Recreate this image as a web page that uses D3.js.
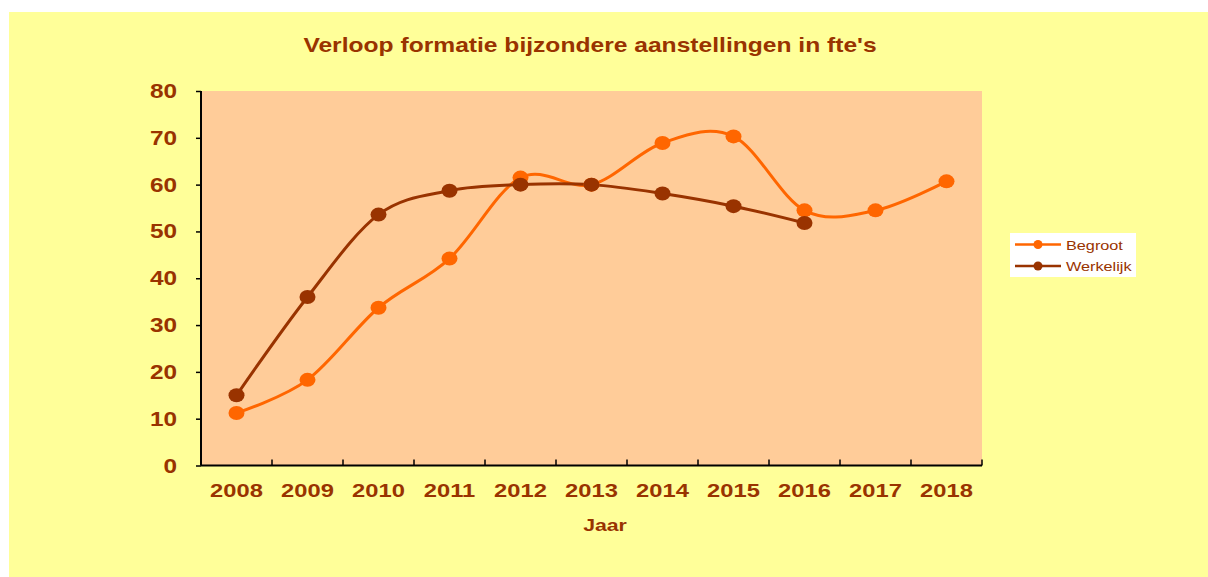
<!DOCTYPE html>
<html>
<head>
<meta charset="utf-8">
<script src="https://cdn.jsdelivr.net/npm/d3@7"></script>
<style>
  body { margin: 0; background: #ffffff; }
  svg { display: block; }
  text { font-family: "Liberation Sans", Arial, sans-serif; fill: #993300; }
</style>
</head>
<body>
<div id="chart"></div>
<script>
var w = 1208,
    h = 577;

// data
var years = ["2008", "2009", "2010", "2011", "2012", "2013", "2014", "2015", "2016", "2017", "2018"];
var begroot = [11.2, 18.3, 33.7, 44.2, 61.5, 60.0, 68.9, 70.3, 54.5, 54.5, 60.7];
var werkelijk = [15.0, 36.0, 53.6, 58.7, 60.0, 60.0, 58.1, 55.4, 51.8, null, null];
var yTicks = [0, 10, 20, 30, 40, 50, 60, 70, 80];
var seriesNames = ["Begroot", "Werkelijk"];
var color = d3.scaleOrdinal().domain(seriesNames).range(["#ff6600", "#993300"]);

var plot = { left: 201, right: 982, top: 91, bottom: 465.5 };
var stretch = 1.25; // the original text is wider than plain Arial

var svg = d3.select("#chart").append("svg")
    .attr("width", w)
    .attr("height", h);

// yellow chart area
svg.append("rect")
    .attr("x", 9).attr("y", 12)
    .attr("width", w - 9).attr("height", h - 12)
    .attr("fill", "#ffff99");

var x = d3.scaleBand().domain(years).range([plot.left, plot.right]);
var y = d3.scaleLinear().domain([0, 80]).range([plot.bottom, plot.top]);

// plot background
svg.append("rect")
    .attr("x", plot.left).attr("y", plot.top)
    .attr("width", plot.right - plot.left)
    .attr("height", plot.bottom - plot.top)
    .attr("fill", "#ffcc99");

function label(g, tx, ty, txt, size, anchor, weight) {
    return g.append("text")
        .attr("transform", "translate(" + tx + "," + ty + ") scale(" + stretch + ",1)")
        .attr("text-anchor", anchor)
        .style("font-size", size + "px")
        .style("font-weight", weight)
        .text(txt);
}

// y axis
var yAxis = svg.append("g").attr("transform", "translate(" + plot.left + ",0)")
    .call(d3.axisLeft(y).tickValues(yTicks).tickSize(5).tickFormat(""));
yAxis.select(".domain").attr("d", "M0," + plot.top + "V" + plot.bottom).attr("stroke", "#000").attr("stroke-width", 2);
yAxis.selectAll(".tick line").attr("stroke", "#000").attr("stroke-width", 1.5);
yTicks.forEach(function(t) {
    label(svg, 177, y(t) + 7, t, 19.5, "end", "bold");
});

// x axis, ticks between categories pointing inward
var xAxis = svg.append("g").attr("transform", "translate(0," + plot.bottom + ")");
xAxis.append("line")
    .attr("x1", plot.left).attr("x2", plot.right)
    .attr("stroke", "#000").attr("stroke-width", 2);
var bounds = years.map(function(d) { return x(d); }).concat([plot.right]);
xAxis.selectAll(".xtick").data(bounds).enter().append("line")
    .attr("class", "xtick")
    .attr("x1", function(d) { return d; }).attr("x2", function(d) { return d; })
    .attr("y1", 0).attr("y2", -6)
    .attr("stroke", "#000").attr("stroke-width", 1.5);
years.forEach(function(yr) {
    label(svg, x(yr) + x.bandwidth() / 2, 497, yr, 19, "middle", "bold");
});

// titles
label(svg, 590, 52, "Verloop formatie bijzondere aanstellingen in fte's", 19.7, "middle", "bold");
label(svg, 605, 531, "Jaar", 17, "middle", "bold");

// lines
var line = d3.line()
    .defined(function(d) { return d.v != null; })
    .x(function(d) { return x(d.year) + x.bandwidth() / 2; })
    .y(function(d) { return y(d.v); })
    .curve(d3.curveCatmullRom.alpha(0));

var series = [
    { name: "Begroot", values: years.map(function(yr, i) { return { year: yr, v: begroot[i] }; }) },
    { name: "Werkelijk", values: years.map(function(yr, i) { return { year: yr, v: werkelijk[i] }; }) }
];

series.forEach(function(s) {
    var pts = s.values.filter(function(d) { return d.v != null; });
    svg.append("path")
        .datum(pts)
        .attr("d", line)
        .attr("fill", "none")
        .attr("stroke", color(s.name))
        .attr("stroke-width", 3);
});

series.forEach(function(s) {
    svg.selectAll(".pt-" + s.name)
        .data(s.values.filter(function(d) { return d.v != null; }))
        .enter().append("ellipse")
        .attr("class", "pt-" + s.name)
        .attr("cx", function(d) { return x(d.year) + x.bandwidth() / 2; })
        .attr("cy", function(d) { return y(d.v); })
        .attr("rx", 8)
        .attr("ry", 7)
        .attr("fill", color(s.name));
});

// legend
var legend = svg.append("g");
legend.append("rect")
    .attr("x", 1010).attr("y", 233)
    .attr("width", 126).attr("height", 44)
    .attr("fill", "#ffffff");
seriesNames.forEach(function(name, i) {
    var ly = 244.5 + i * 21.5;
    legend.append("line")
        .attr("x1", 1015).attr("x2", 1061)
        .attr("y1", ly).attr("y2", ly)
        .attr("stroke", color(name)).attr("stroke-width", 2.5);
    legend.append("circle")
        .attr("cx", 1038).attr("cy", ly).attr("r", 4.5)
        .attr("fill", color(name));
    label(legend, 1066, ly + 5, name, 13, "start", "normal");
});
</script>
</body>
</html>
